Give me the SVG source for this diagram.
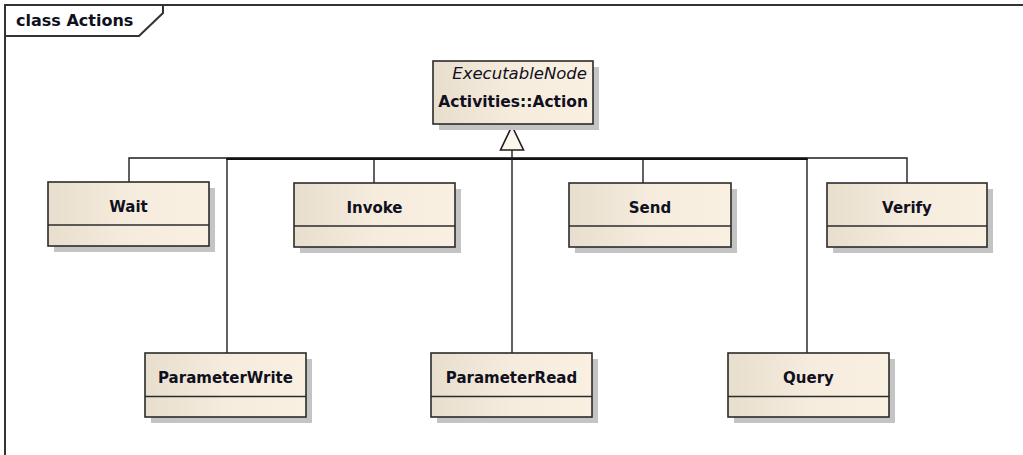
<svg xmlns="http://www.w3.org/2000/svg" width="1023" height="455" viewBox="0 0 1023 455">
<defs>
<linearGradient id="g" x1="0" y1="0" x2="1" y2="0">
<stop offset="0" stop-color="#E8DECE"/>
<stop offset="0.5" stop-color="#F6ECDD"/>
<stop offset="1" stop-color="#FAF0E2"/>
</linearGradient>
</defs>
<style>
.sh{fill:#C4C4C4}
.box{fill:url(#g);stroke:#2b2b2b;stroke-width:1.6}
.div{stroke:#2b2b2b;stroke-width:1.6}
.lbl{font-family:"DejaVu Sans",Verdana,sans-serif;font-weight:bold;font-size:15px;fill:#101020;text-anchor:middle}
.con{fill:none;stroke:#1e1e1e;stroke-width:1.4}
.bus{fill:none;stroke:#111;stroke-width:2.2}
.frame{fill:none;stroke:#333;stroke-width:2}
</style>
<rect x="0" y="0" width="1023" height="455" fill="#fff"/>
<g id="frame">
<rect class="frame" x="5" y="5" width="1030" height="460"/>
<path class="frame" d="M5,36 H139 L163,13 V5"/>
<text x="16" y="26" style="font-family:'DejaVu Sans',Verdana,sans-serif;font-weight:bold;font-size:16px;fill:#101020">class Actions</text>
</g>
<g id="connectors">
<path class="con" d="M129,182 V158 H512"/>
<path class="con" d="M374,183 V158"/>
<path class="con" d="M643,183 V158"/>
<path class="con" d="M907,183 V158 H512"/>
<path class="con" d="M227,353 V159"/>
<path class="con" d="M807,353 V159"/>
<path class="bus" d="M226.3,158.9 H807.7"/>
<path class="con" d="M512,353 V150"/>
<path d="M512,126 L523.5,150 H500.5 Z" fill="#FBF6EE" stroke="#1e1e1e" stroke-width="1.6"/>
</g>
<g id="action">
<rect class="sh" x="439" y="67" width="160" height="63"/>
<rect class="box" x="433" y="61" width="160" height="63"/>
<text x="587" y="79" style="font-family:'DejaVu Sans',Verdana,sans-serif;font-style:italic;font-size:16.5px;fill:#101020;text-anchor:end">ExecutableNode</text>
<text x="588" y="107" style="font-family:'DejaVu Sans',Verdana,sans-serif;font-weight:bold;font-size:15.5px;fill:#101020;text-anchor:end">Activities::Action</text>
</g>
<g id="wait">
<rect class="sh" x="54" y="188" width="161" height="64"/>
<rect class="box" x="48" y="182" width="161" height="64"/>
<line class="div" x1="48" y1="225" x2="209" y2="225"/>
<text class="lbl" x="128.5" y="212">Wait</text>
</g>
<g id="invoke">
<rect class="sh" x="300" y="189" width="161" height="64"/>
<rect class="box" x="294" y="183" width="161" height="64"/>
<line class="div" x1="294" y1="226" x2="455" y2="226"/>
<text class="lbl" x="374.5" y="213">Invoke</text>
</g>
<g id="send">
<rect class="sh" x="575" y="189" width="162" height="64"/>
<rect class="box" x="569" y="183" width="162" height="64"/>
<line class="div" x1="569" y1="226" x2="731" y2="226"/>
<text class="lbl" x="650" y="213">Send</text>
</g>
<g id="verify">
<rect class="sh" x="833" y="189" width="160" height="64"/>
<rect class="box" x="827" y="183" width="160" height="64"/>
<line class="div" x1="827" y1="226" x2="987" y2="226"/>
<text class="lbl" x="907" y="213">Verify</text>
</g>
<g id="parameterwrite">
<rect class="sh" x="151" y="359" width="161" height="64"/>
<rect class="box" x="145" y="353" width="161" height="64"/>
<line class="div" x1="145" y1="396.5" x2="306" y2="396.5"/>
<text class="lbl" x="225.5" y="383">ParameterWrite</text>
</g>
<g id="parameterread">
<rect class="sh" x="437" y="359" width="161" height="64"/>
<rect class="box" x="431" y="353" width="161" height="64"/>
<line class="div" x1="431" y1="396.5" x2="592" y2="396.5"/>
<text class="lbl" x="511.5" y="383">ParameterRead</text>
</g>
<g id="query">
<rect class="sh" x="734" y="359" width="161" height="64"/>
<rect class="box" x="728" y="353" width="161" height="64"/>
<line class="div" x1="728" y1="396.5" x2="889" y2="396.5"/>
<text class="lbl" x="808.5" y="383">Query</text>
</g>
</svg>
